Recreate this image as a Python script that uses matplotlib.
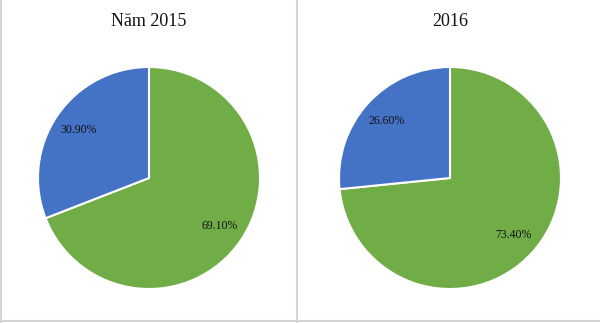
import matplotlib
matplotlib.use("Agg")
import matplotlib.pyplot as plt
from matplotlib.lines import Line2D

# data
titles = ["Năm 2015", "2016"]
shares = [[69.10, 30.90], [73.40, 26.60]]
colors = ["#70AD47", "#4472C4"]

W, H = 600, 323
fig = plt.figure(figsize=(6, 3.23), dpi=100)
fig.patch.set_facecolor("white")

# pie centres / radius in pixels (from reference)
centers = [(149, 178), (450, 178)]
R = 111
title_x = [149, 450]

for i in range(2):
    cx, cy = centers[i]
    ax = fig.add_axes([(cx - R) / W, (H - cy - R) / H, 2 * R / W, 2 * R / H])
    ax.pie(shares[i], colors=colors, startangle=90, counterclock=False,
           autopct=lambda p: "%.2f%%" % p, pctdistance=0.77,
           wedgeprops=dict(edgecolor="white", linewidth=1.5),
           textprops=dict(family="Liberation Serif", fontsize=8.5, color="#111111"))
    ax.set_aspect("equal")
    ax.set_xlim(-1, 1)
    ax.set_ylim(-1, 1)
    ax.axis("off")
    fig.text(title_x[i] / W, 1 - 22 / H, titles[i], ha="center", va="center",
             family="Liberation Serif", fontsize=13, color="#111111")

# panel borders
gray = "#D4D4D4"
fig.add_artist(Line2D([0.5 / W, 0.5 / W], [0, 1], color=gray, lw=1.5))
fig.add_artist(Line2D([297 / W, 297 / W], [0, 1], color=gray, lw=1.5))
fig.add_artist(Line2D([0, 1], [1.8 / H, 1.8 / H], color=gray, lw=1.5))

fig.savefig("out.png", dpi=100, facecolor="white")
